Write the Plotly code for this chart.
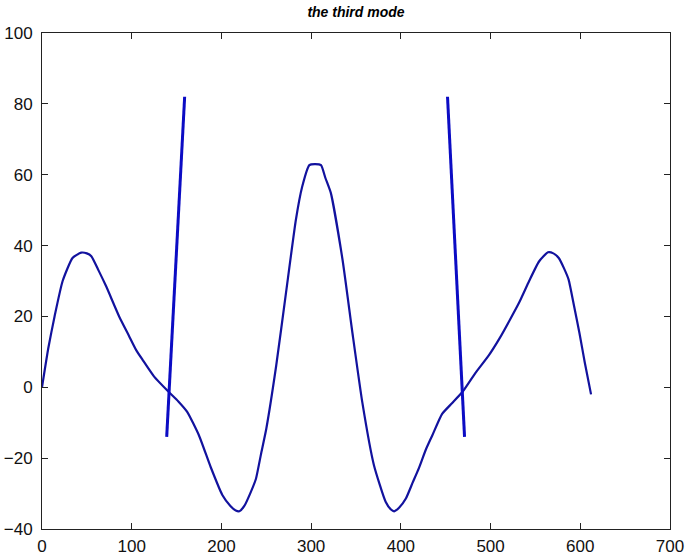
import plotly.graph_objects as go

# Main mode-shape curve
mode_x = [0, 7, 14, 23, 34, 43.6, 50, 55, 63, 71.5, 86, 97, 105, 112, 125, 140, 152, 162,
          175, 188, 201, 210, 216, 220, 225.5, 232, 238.5, 244, 250, 261, 272, 283, 290,
          298, 304, 311, 316, 322, 335, 346, 357, 370, 383, 389, 392.5, 398, 405.6, 413,
          420, 428, 435, 446, 457, 469, 483, 498, 510, 521, 532, 543, 554, 564, 570, 576,
          582, 587, 593, 599, 605, 612]
mode_y = [0, 11, 20, 30, 36.5, 38, 37.8, 37, 33, 28.5, 20, 14.5, 10.5, 7.8, 3, -1, -4, -7,
          -13.6, -22.5, -30.4, -33.5, -34.8, -35, -33.5, -30, -25.8, -19, -11.7, 6, 26.7, 47.3, 56.6,
          62.7, 63, 62.7, 59, 54.8, 36, 15.4, -4.2, -22, -32.3, -34.5, -35, -34, -31.4, -27,
          -22.9, -17.5, -13.6, -7.5, -4.5, -1.2, 4, 9, 13.8, 18.8, 24, 30, 35.5, 38.1, 37.8, 36.5,
          33.5, 30.4, 23, 15.4, 7, -2]

# Two steep segments
seg1_x = [139, 159]
seg1_y = [-14, 82]
seg2_x = [452, 471]
seg2_y = [82, -14]

x_ticks = [0, 100, 200, 300, 400, 500, 600, 700]
y_ticks = [-40, -20, 0, 20, 40, 60, 80, 100]

fig = go.Figure()
fig.add_trace(go.Scatter(x=mode_x, y=mode_y, mode="lines",
                         line=dict(color="#12129e", width=2.2, shape="spline", smoothing=0.5),
                         showlegend=False, hoverinfo="skip"))
fig.add_trace(go.Scatter(x=seg1_x, y=seg1_y, mode="lines",
                         line=dict(color="#0c0cc4", width=3), showlegend=False, hoverinfo="skip"))
fig.add_trace(go.Scatter(x=seg2_x, y=seg2_y, mode="lines",
                         line=dict(color="#0c0cc4", width=3), showlegend=False, hoverinfo="skip"))

font_fam = "Liberation Sans, Arial, sans-serif"
axis_common = dict(showgrid=False, zeroline=False, showline=True, linecolor="#222222",
                   linewidth=1, mirror="ticks", ticks="inside", ticklen=6,
                   tickcolor="#222222", tickwidth=1, automargin=False,
                   tickfont=dict(family=font_fam, size=17, color="#111111"))

fig.update_layout(
    width=685, height=556,
    paper_bgcolor="white", plot_bgcolor="white",
    margin=dict(l=42, r=15, t=33, b=27, autoexpand=False),
    title=dict(text="<b><i>the third mode</i></b>", x=0.5, xanchor="center",
               xref="paper", yref="container", y=0.978, yanchor="middle",
               font=dict(family=font_fam, size=14, color="black")),
    xaxis=dict(range=[0, 700], tickvals=x_ticks, ticklabelstandoff=2, **axis_common),
    yaxis=dict(range=[-40, 100], tickvals=y_ticks, ticklabelstandoff=5, **axis_common),
)

fig.write_html("out.html", config={"displayModeBar": False},
               post_script="document.body.style.margin='0px';document.body.style.overflow='hidden';")
